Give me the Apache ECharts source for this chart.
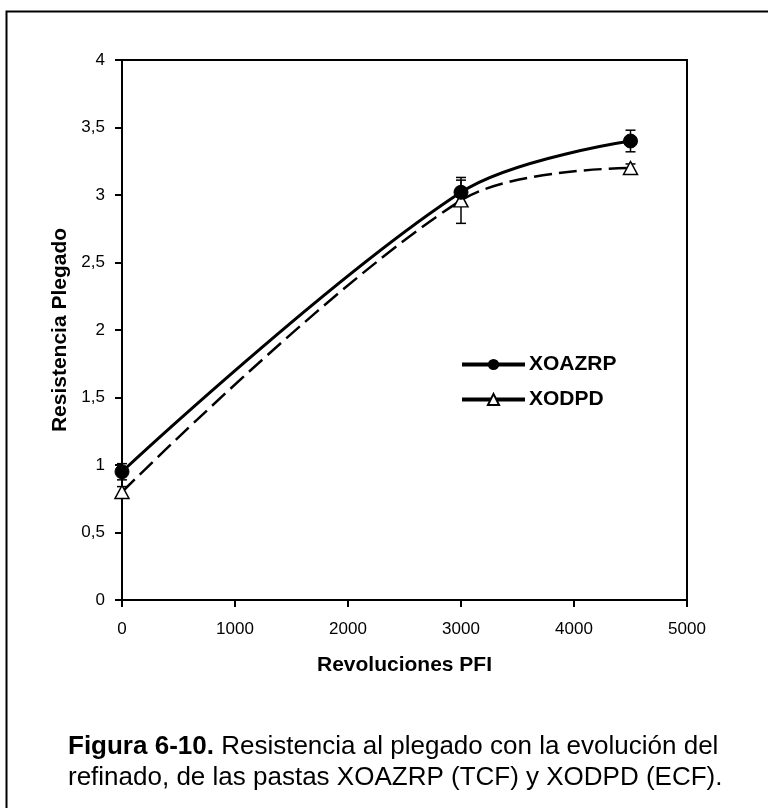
<!DOCTYPE html>
<html>
<head>
<meta charset="utf-8">
<script src="https://cdn.jsdelivr.net/npm/echarts@6/dist/echarts.min.js"></script>
<style>
  html,body{margin:0;padding:0;background:#fff;}
  #chart{width:768px;height:808px;}
</style>
</head>
<body>
<div id="chart"></div>
<script>
// revoluciones PFI
const revs = [0, 3000, 4500];
// resistencia al plegado
const xoazrp = [0.95, 3.02, 3.40];
const xoazrpErr = [0.06, 0.09, 0.08];
const xodpd = [0.80, 2.96, 3.20];
const xodpdErr = [0.04, 0.17, 0.03];
const yTicks = ['0', '0,5', '1', '1,5', '2', '2,5', '3', '3,5', '4'];

function pairs(xs, ys){
  return xs.map((x,i)=>[x, ys[i]]);
}
function errRows(xs, ys, es){
  return xs.map((x,i)=>[x, ys[i]-es[i], ys[i]+es[i]]);
}

// barras de error con tapas
function renderErr(params, api){
  const x = api.value(0);
  const lo = api.coord([x, api.value(1)]);
  const hi = api.coord([x, api.value(2)]);
  const w = 5;
  const st = {stroke:'#000', lineWidth:1.5};
  return {
    type:'group',
    children:[
      {type:'line', shape:{x1:lo[0],y1:lo[1],x2:hi[0],y2:hi[1]}, style:st},
      {type:'line', shape:{x1:lo[0]-w,y1:lo[1],x2:lo[0]+w,y2:lo[1]}, style:st},
      {type:'line', shape:{x1:hi[0]-w,y1:hi[1],x2:hi[0]+w,y2:hi[1]}, style:st}
    ]
  };
}

const chart = echarts.init(document.getElementById('chart'), null, {renderer:'canvas'});
const font = '"Liberation Sans", Arial, sans-serif';

chart.setOption({
  animation:false,
  textStyle:{fontFamily:font, color:'#000'},
  grid:{
    left:122, top:60, width:565, height:540,
    show:true, borderColor:'#000', borderWidth:2, backgroundColor:'transparent'
  },
  xAxis:{
    type:'value', min:0, max:5000, interval:1000,
    name:'Revoluciones PFI', nameLocation:'middle', nameGap:55,
    nameTextStyle:{fontFamily:font, fontSize:21, fontWeight:'bold', color:'#000'},
    axisLine:{lineStyle:{color:'#000', width:2}},
    axisTick:{show:true, length:7, inside:false, lineStyle:{color:'#000', width:2}},
    axisLabel:{fontFamily:font, fontSize:17, color:'#000', margin:21,
      formatter:(v)=>String(v)},
    splitLine:{show:false}
  },
  yAxis:{
    type:'value', min:0, max:4, interval:0.5,
    name:'Resistencia Plegado', nameLocation:'middle', nameGap:49,
    nameTextStyle:{fontFamily:font, fontSize:21, fontWeight:'bold', color:'#000'},
    axisLine:{show:true, lineStyle:{color:'#000', width:2}},
    axisTick:{show:true, length:7, lineStyle:{color:'#000', width:2}},
    axisLabel:{fontFamily:font, fontSize:17, color:'#000', margin:17,
      formatter:(v)=>yTicks[Math.round(v*2)]},
    splitLine:{show:false}
  },
  legend:{
    orient:'vertical', left:460, top:354, itemGap:14, padding:0,
    itemWidth:63, itemHeight:14,
    data:['XOAZRP','XODPD'],
    lineStyle:{type:'solid', width:4},
    textStyle:{fontFamily:font, fontSize:21, fontWeight:'bold', color:'#000', padding:[0,0,0,-1]}
  },
  series:[
    {
      name:'XOAZRP-err', type:'custom', renderItem:renderErr,
      data:errRows(revs, xoazrp, xoazrpErr), encode:{x:0, y:[1,2]}, clip:false, z:1
    },
    {
      name:'XODPD-err', type:'custom', renderItem:renderErr,
      data:errRows(revs, xodpd, xodpdErr), encode:{x:0, y:[1,2]}, clip:false, z:1
    },
    {
      name:'XODPD', type:'line', data:pairs(revs, xodpd), smooth:0.35,
      symbol:'triangle', symbolSize:[14,13], showAllSymbol:true,
      lineStyle:{color:'#000', width:2.5, type:[18,7]},
      itemStyle:{color:'#fff', borderColor:'#000', borderWidth:1.5},
      z:3
    },
    {
      name:'XOAZRP', type:'line', data:pairs(revs, xoazrp), smooth:0.35,
      symbol:'circle', symbolSize:14,
      lineStyle:{color:'#000', width:3},
      itemStyle:{color:'#000', borderColor:'#000'},
      z:4
    }
  ],
  graphic:[
    {type:'rect', shape:{x:6.5, y:11.5, width:900, height:900},
      style:{fill:'none', stroke:'#000', lineWidth:2}, silent:true},
    {type:'text', left:68, top:734, style:{
      rich:{
        b:{fontFamily:font, fontSize:26, fontWeight:'bold', fill:'#000', lineHeight:31},
        n:{fontFamily:font, fontSize:26, fill:'#000', lineHeight:31}
      },
      text:'{b|Figura 6-10.}{n| Resistencia al plegado con la evolución del}\n{n|refinado, de las pastas XOAZRP (TCF) y XODPD (ECF).}',
      align:'center'
    }}
  ]
});
</script>
</body>
</html>
